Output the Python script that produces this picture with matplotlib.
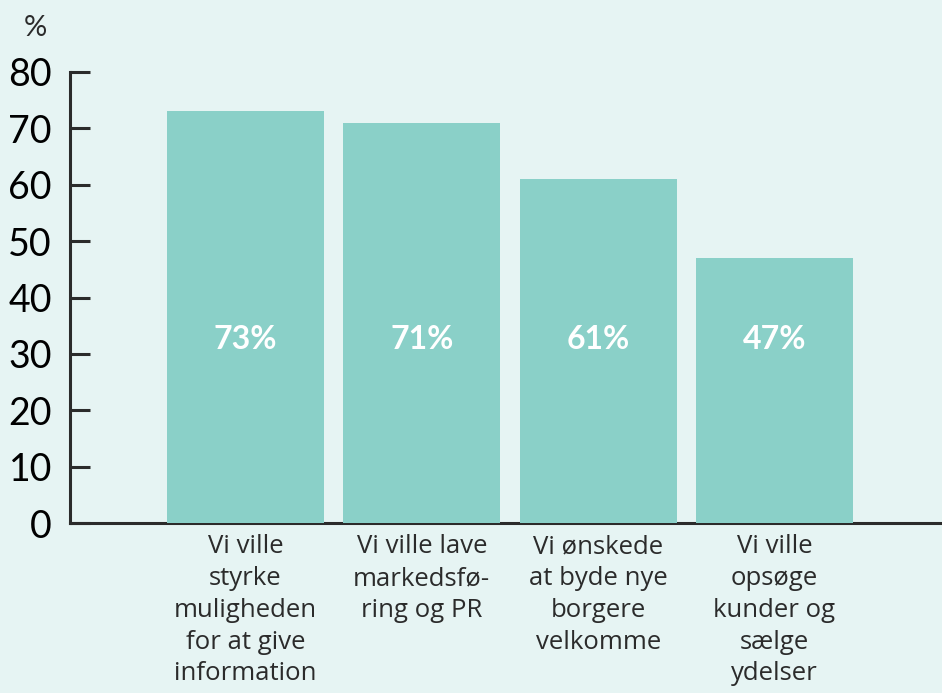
import numpy as np
import matplotlib.pyplot as plt

# Data
kategorier = [
    "Vi ville\nstyrke\nmuligheden\nfor at give\ninformation",
    "Vi ville lave\nmarkedsfø-\nring og PR",
    "Vi ønskede\nat byde nye\nborgere\nvelkomme",
    "Vi ville\nopsøge\nkunder og\nsælge\nydelser",
]
andel = [73, 71, 61, 47]
y_ticks = [0, 10, 20, 30, 40, 50, 60, 70, 80]

baggrund = "#e6f4f3"
bar_farve = "#8ad0c8"
tekst_farve = "#2b2b2b"

plt.rcParams['font.family'] = ['Lato', 'DejaVu Sans']

fig = plt.figure(figsize=(9.42, 6.93), dpi=100, facecolor=baggrund)
ax = fig.add_axes([70 / 942, 170 / 693, 1 - 70 / 942, 451 / 693])
ax.set_facecolor(baggrund)

x = np.arange(len(kategorier))
bars = ax.bar(x, andel, width=0.89, color=bar_farve, zorder=3)

# Værdier i søjlerne
for xi, v in zip(x, andel):
    ax.text(xi, 32.6, f"{v}%", ha='center', va='center', color='white',
            fontsize=23, fontweight='bold', zorder=4)

ax.set_xlim(-0.995, 3.95)
ax.set_ylim(0, 80)
ax.set_yticks(y_ticks)
ax.set_yticklabels([str(t) for t in y_ticks], fontsize=27, color='black')
ax.tick_params(axis='y', direction='in', length=14.5, width=2.2,
               color=tekst_farve, pad=13)

ax.set_xticks(x)
ax.set_xticklabels(kategorier, fontsize=18.5, color=tekst_farve,
                   linespacing=1.36, family=['Open Sans', 'DejaVu Sans'])
ax.tick_params(axis='x', length=0, pad=8)

for side in ['top', 'right']:
    ax.spines[side].set_visible(False)
ax.spines['left'].set_color(tekst_farve)
ax.spines['left'].set_linewidth(2.2)
ax.spines['bottom'].set_color(tekst_farve)
ax.spines['bottom'].set_linewidth(2.2)
ax.spines['bottom'].set_zorder(2)

fig.text(35 / 942, 1 - 28 / 693, "%", fontsize=21, color=tekst_farve,
         ha='center', va='center')

fig.savefig("out.png", dpi=100, facecolor=baggrund)
